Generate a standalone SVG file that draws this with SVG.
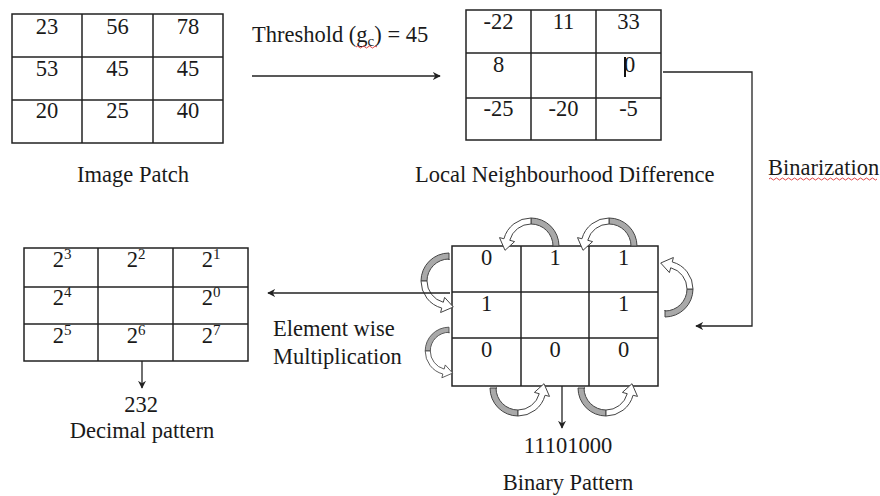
<svg xmlns="http://www.w3.org/2000/svg" width="880" height="496" viewBox="0 0 880 496">
<defs>
<style>
text{font-family:"Liberation Serif","Times New Roman",serif;font-size:22.5px;fill:#1a1a1a}
.c{text-anchor:middle}
.sup{font-size:15px}
.grid line,.grid rect{stroke:#222;stroke-width:1.5;fill:none}
.conn{stroke:#222;stroke-width:1.3;fill:none}
.squig{stroke:#d33;stroke-width:0.9;fill:none}
.tail{fill:#a9a9a9;stroke:#444;stroke-width:1}
.head{fill:#fff;stroke:#444;stroke-width:1}
</style>
<marker id="ah" viewBox="0 0 10 10" refX="9" refY="5" markerWidth="8" markerHeight="8" markerUnits="userSpaceOnUse" orient="auto">
<path d="M0,0 L10,5 L0,10 L3,5 Z" fill="#222"/>
</marker>
<g id="carrow">
<path class="tail" d="M21,0 L28,0 A28,28 0 0 0 0,-28 L0,-22 A22,22 0 0 1 22,0 Z"/>
<path class="head" d="M0,-28 A28,28 0 0 0 -27.05,-7.25 L-31.5,-8.4 L-26,4.3 L-16.4,-4.4 L-21.25,-5.7 A22,22 0 0 1 0,-22 Z"/>
</g>
</defs>
<rect width="880" height="496" fill="#fff"/>

<g id="image-patch">
<g class="grid">
<rect x="12" y="14" width="211" height="129"/>
<line x1="82" y1="14" x2="82" y2="143"/><line x1="153" y1="14" x2="153" y2="143"/>
<line x1="12" y1="57" x2="223" y2="57"/><line x1="12" y1="100" x2="223" y2="100"/>
</g>
<text class="c" x="47" y="34">23</text><text class="c" x="117.5" y="34">56</text><text class="c" x="188" y="34">78</text>
<text class="c" x="47" y="76">53</text><text class="c" x="117.5" y="76">45</text><text class="c" x="188" y="76">45</text>
<text class="c" x="47" y="118">20</text><text class="c" x="117.5" y="118">25</text><text class="c" x="188" y="118">40</text>
<text class="c" x="133" y="182">Image Patch</text>
</g>

<g id="threshold-label">
<text x="252" y="42">Threshold (g<tspan class="sup" dy="4">c</tspan><tspan dy="-4">) = 45</tspan></text>
<path class="squig" d="M356,47 q1.5,-2 3,0 t3,0 t3,0 t3,0 t3,0 t3,0 t3,0"/>
</g>

<g id="neighbourhood-difference">
<g class="grid">
<rect x="466" y="10" width="195" height="130"/>
<line x1="531" y1="10" x2="531" y2="140"/><line x1="596" y1="10" x2="596" y2="140"/>
<line x1="466" y1="53" x2="661" y2="53"/><line x1="466" y1="98" x2="661" y2="98"/>
</g>
<text class="c" x="498.5" y="29">-22</text><text class="c" x="563.5" y="29">11</text><text class="c" x="628.5" y="29">33</text>
<text class="c" x="498.5" y="72">8</text><text class="c" x="629.5" y="72">0</text>
<line x1="625" y1="57" x2="625" y2="77" stroke="#111" stroke-width="2"/>
<text class="c" x="498.5" y="116">-25</text><text class="c" x="563.5" y="116">-20</text><text class="c" x="628.5" y="116">-5</text>
<text x="415" y="182">Local Neighbourhood Difference</text>
</g>

<g id="binarization-label">
<text x="768" y="175">Binarization</text>
<path class="squig" d="M769,179 q1.5,-2 3,0 t3,0 t3,0 t3,0 t3,0 t3,0 t3,0 t3,0 t3,0 t3,0 t3,0 t3,0 t3,0 t3,0 t3,0 t3,0 t3,0 t3,0 t3,0 t3,0 t3,0 t3,0 t3,0 t3,0 t3,0 t3,0 t3,0 t3,0 t3,0 t3,0 t3,0 t3,0 t3,0 t3,0 t3,0 t3,0"/>
</g>

<g id="binary-grid">
<g class="grid">
<rect x="452" y="246" width="206" height="140"/>
<line x1="521" y1="246" x2="521" y2="386"/><line x1="589" y1="246" x2="589" y2="386"/>
<line x1="452" y1="292" x2="658" y2="292"/><line x1="452" y1="338" x2="658" y2="338"/>
</g>
<text class="c" x="486.5" y="265">0</text><text class="c" x="555" y="265">1</text><text class="c" x="623.5" y="265">1</text>
<text class="c" x="486.5" y="311">1</text><text class="c" x="623.5" y="311">1</text>
<text class="c" x="486.5" y="357">0</text><text class="c" x="555" y="357">0</text><text class="c" x="623.5" y="357">0</text>
</g>

<g id="curved-arrows">
<use href="#carrow" transform="translate(531,246)"/>
<use href="#carrow" transform="translate(609,246)"/>
<use href="#carrow" transform="translate(665,289) rotate(90)"/>
<use href="#carrow" transform="translate(449,281) rotate(-90)"/>
<use href="#carrow" transform="translate(449,351) rotate(-90) scale(0.85)"/>
<use href="#carrow" transform="translate(518,388) rotate(180)"/>
<use href="#carrow" transform="translate(606,388) rotate(180)"/>
</g>

<g id="binary-pattern-label">
<text class="c" x="568" y="453">11101000</text>
<text class="c" x="568" y="490">Binary Pattern</text>
</g>

<g id="decimal-grid">
<g class="grid">
<rect x="24" y="248" width="224" height="113"/>
<line x1="98" y1="248" x2="98" y2="361"/><line x1="173" y1="248" x2="173" y2="361"/>
<line x1="24" y1="287" x2="248" y2="287"/><line x1="24" y1="324" x2="248" y2="324"/>
</g>
<text class="c" x="62" y="267">2<tspan class="sup" dy="-8">3</tspan></text>
<text class="c" x="136" y="267">2<tspan class="sup" dy="-8">2</tspan></text>
<text class="c" x="211" y="267">2<tspan class="sup" dy="-8">1</tspan></text>
<text class="c" x="62" y="305">2<tspan class="sup" dy="-8">4</tspan></text>
<text class="c" x="211" y="305">2<tspan class="sup" dy="-8">0</tspan></text>
<text class="c" x="62" y="343">2<tspan class="sup" dy="-8">5</tspan></text>
<text class="c" x="136" y="343">2<tspan class="sup" dy="-8">6</tspan></text>
<text class="c" x="211" y="343">2<tspan class="sup" dy="-8">7</tspan></text>
</g>

<g id="decimal-label">
<text class="c" x="141" y="412">232</text>
<text class="c" x="142" y="438">Decimal pattern</text>
</g>

<g id="multiplication-label">
<text x="273" y="336">Element wise</text>
<text x="273" y="364">Multiplication</text>
</g>

<g id="connectors">
<line class="conn" x1="252" y1="76" x2="440" y2="76" marker-end="url(#ah)"/>
<polyline class="conn" points="663,72 752,72 752,326 696,326" marker-end="url(#ah)"/>
<line class="conn" x1="450" y1="293" x2="268" y2="293" marker-end="url(#ah)"/>
<line class="conn" x1="562" y1="386" x2="562" y2="428" marker-end="url(#ah)"/>
<line class="conn" x1="142" y1="361" x2="142" y2="388" marker-end="url(#ah)"/>
</g>
</svg>
